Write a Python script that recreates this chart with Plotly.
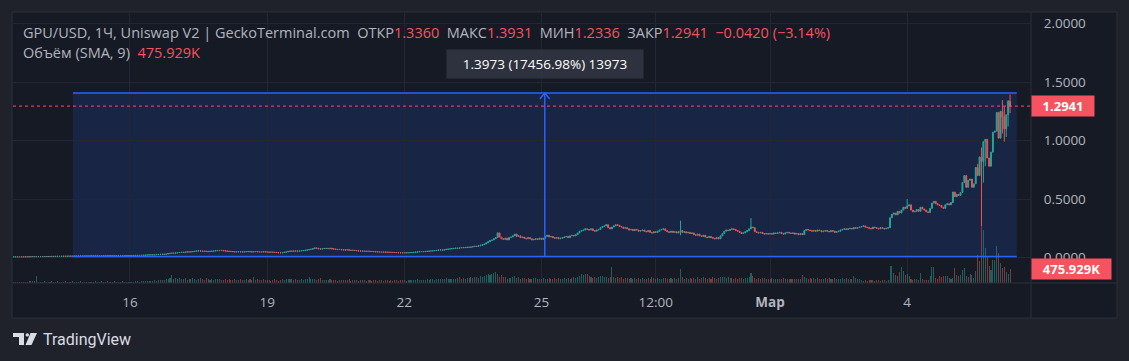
import pandas as pd
import plotly.graph_objects as go

# ---------------- DATA (hourly candles, GPU/USD) ----------------
start_time = "2024-02-13 11:00"
first_open = 0.0058

close_feb13 = [0.0060,0.0061,0.0060,0.0062,0.0061,0.0063,0.0062,0.0064,0.0063,0.0071,0.0080,0.0076,0.0078]
close_feb14 = [0.0080,0.0082,0.0079,0.0084,0.0088,0.0086,0.0090,0.0095,0.0093,0.0098,0.0102,0.0100,
               0.0105,0.0110,0.0107,0.0112,0.0118,0.0115,0.0121,0.0125,0.0122,0.0128,0.0132,0.0130]
close_feb15 = [0.0133,0.0131,0.0136,0.0140,0.0138,0.0142,0.0145,0.0143,0.0147,0.0150,0.0148,0.0152,
               0.0150,0.0154,0.0157,0.0155,0.0158,0.0156,0.0160,0.0158,0.0162,0.0165,0.0163,0.0166]
close_feb16 = [0.0168,0.0172,0.0175,0.0178,0.0182,0.0180,0.0188,0.0195,0.0205,0.0215,0.0225,0.0230,
               0.0226,0.0240,0.0255,0.0262,0.0270,0.0282,0.0278,0.0300,0.0335,0.0360,0.0372,0.0368]
close_feb17 = [0.0390,0.0420,0.0430,0.0445,0.0438,0.0460,0.0480,0.0470,0.0490,0.0510,0.0535,0.0560,
               0.0575,0.0550,0.0530,0.0545,0.0520,0.0505,0.0525,0.0545,0.0560,0.0580,0.0600,0.0590]
close_feb18 = [0.0605,0.0580,0.0560,0.0540,0.0520,0.0510,0.0495,0.0480,0.0490,0.0500,0.0485,0.0470,
               0.0490,0.0500,0.0510,0.0495,0.0480,0.0500,0.0510,0.0490,0.0480,0.0470,0.0490,0.0480]
close_feb19 = [0.0470,0.0455,0.0460,0.0450,0.0440,0.0425,0.0410,0.0400,0.0420,0.0450,0.0480,0.0520,
               0.0550,0.0540,0.0560,0.0550,0.0545,0.0560,0.0580,0.0600,0.0620,0.0650,0.0680,0.0710]
close_feb20 = [0.0760,0.0820,0.0790,0.0740,0.0720,0.0750,0.0770,0.0780,0.0760,0.0790,0.0740,0.0720,
               0.0700,0.0680,0.0690,0.0660,0.0650,0.0640,0.0660,0.0630,0.0610,0.0620,0.0600,0.0580]
close_feb21 = [0.0560,0.0545,0.0550,0.0540,0.0530,0.0535,0.0520,0.0510,0.0500,0.0490,0.0480,0.0470,
               0.0460,0.0465,0.0455,0.0450,0.0445,0.0440,0.0430,0.0425,0.0420,0.0410,0.0405,0.0400]
close_feb22 = [0.0405,0.0400,0.0410,0.0420,0.0430,0.0445,0.0460,0.0480,0.0500,0.0510,0.0505,0.0520,
               0.0530,0.0550,0.0560,0.0580,0.0600,0.0610,0.0640,0.0650,0.0630,0.0660,0.0700,0.0720]
close_feb23 = [0.0740,0.0760,0.0780,0.0800,0.0790,0.0820,0.0850,0.0840,0.0860,0.0880,0.0870,0.0900,
               0.0930,0.0960,0.0950,0.1000,0.1050,0.1100,0.1150,0.1250,0.1350,0.1450,0.1500,0.1600]
close_feb24 = [0.1700,0.2100,0.1750,0.1600,0.1550,0.1650,0.1500,0.1700,0.1750,0.1850,0.2000,0.1800,
               0.1850,0.1700,0.1750,0.1650,0.1600,0.1700,0.1600,0.1500,0.1550,0.1600,0.1550,0.1650]
close_feb25 = [0.1550,0.1650,0.1800,0.1900,0.1750,0.1800,0.1700,0.1650,0.1700,0.1600,0.1650,0.1700,
               0.1750,0.1800,0.1700,0.1850,0.1900,0.1850,0.1950,0.2100,0.2250,0.2300,0.2350,0.2450]
close_feb26 = [0.2400,0.2350,0.2450,0.2300,0.2250,0.2350,0.2400,0.2550,0.2650,0.2700,0.2800,0.2550,
               0.2450,0.2600,0.2700,0.2800,0.2750,0.2650,0.2600,0.2500,0.2550,0.2450,0.2350,0.2400]
close_feb27 = [0.2300,0.2400,0.2350,0.2250,0.2300,0.2350,0.2250,0.2200,0.2300,0.2150,0.2100,0.2200,
               0.2150,0.2250,0.2350,0.2400,0.2450,0.2300,0.2200,0.2150,0.2250,0.2150,0.2200,0.2100]
close_feb28 = [0.2200,0.2300,0.2150,0.2200,0.2100,0.2150,0.2050,0.2100,0.1950,0.1900,0.2000,0.1850,
               0.1800,0.1900,0.1750,0.1700,0.1800,0.1700,0.1650,0.1600,0.1700,0.1600,0.1850,0.2050]
close_feb29 = [0.2250,0.2350,0.2300,0.2400,0.2450,0.2400,0.2300,0.2250,0.2150,0.2050,0.2100,0.2200,
               0.2300,0.2450,0.2600,0.2550,0.2200,0.2150,0.2100,0.2150,0.2050,0.2000,0.2050,0.2000]
close_mar01 = [0.2050,0.2000,0.2100,0.2050,0.2100,0.2150,0.2050,0.2000,0.2100,0.2150,0.2100,0.2050,
               0.2100,0.2000,0.2050,0.1950,0.2050,0.1950,0.2300,0.2400,0.2350,0.2300,0.2250,0.2300]
close_mar02 = [0.2250,0.2350,0.2300,0.2200,0.2250,0.2300,0.2250,0.2200,0.2300,0.2250,0.2150,0.2200,
               0.2250,0.2350,0.2400,0.2450,0.2400,0.2450,0.2500,0.2450,0.2550,0.2500,0.2550,0.2600]
close_mar03 = [0.2650,0.2700,0.2600,0.2550,0.2500,0.2450,0.2600,0.2550,0.2500,0.2450,0.2550,0.2500,
               0.2450,0.2500,0.2550,0.3400,0.3700,0.3800,0.3650,0.3950,0.3800,0.4050,0.4300,0.4200]
close_mar04 = [0.4400,0.4500,0.4050,0.3900,0.3950,0.4100,0.3950,0.4300,0.4150,0.4050,0.3900,0.3850,
               0.4200,0.4650,0.4800,0.4600,0.4500,0.4450,0.4300,0.4200,0.4500,0.4600,0.4500,0.4700]
close_mar05 = [0.5600,0.5200,0.5400,0.5300,0.5560,0.6400,0.7000,0.6000,0.6600,0.6700,0.6000,0.6300,
               0.7700,0.7000,0.8600,0.8200,0.9900,1.0100,0.8500,0.7800,0.9000,1.0700,1.0800,1.2400]
close_mar06 = [1.0200,1.2500,1.2000,1.1000,1.2200,1.3360,1.2941]

# wick extremes that stick out of the bodies: time -> price
wick_high = {"2024-02-24 01:00": 0.215, "2024-02-28 01:00": 0.315, "2024-02-29 14:00": 0.338,
             "2024-03-04 00:00": 0.500, "2024-03-05 13:00": 0.800, "2024-03-05 15:00": 0.940,
             "2024-03-06 02:00": 1.345, "2024-03-06 03:00": 1.290, "2024-03-06 05:00": 1.345,
             "2024-03-06 06:00": 1.3931}
wick_low = {"2024-02-28 01:00": 0.190, "2024-03-05 15:00": 0.270, "2024-03-05 16:00": 0.640,
            "2024-03-05 17:00": 0.780, "2024-03-06 02:00": 1.060, "2024-03-06 03:00": 0.990,
            "2024-03-06 04:00": 1.030, "2024-03-06 05:00": 1.120, "2024-03-06 06:00": 1.2336}

# hourly volume, thousands USD
vol_feb13 = [40,35,30,45,38,50,42,35,60,70,80,55,250]
vol_feb14 = [45,38,30,52,40,35,48,60,42,38,55,45,33,40,62,50,36,44,58,40,35,47,53,38]
vol_feb15 = [42,36,50,45,34,40,55,48,37,60,44,39,52,46,35,43,58,41,37,49,54,40,45,38]
vol_feb16 = [45,50,40,62,55,48,70,58,65,80,72,60,85,95,78,88,110,90,100,130,150,180,260,120]
vol_feb17 = [160,140,180,120,150,165,110,140,130,175,120,100,140,155,125,110,160,130,115,145,105,130,150,120]
vol_feb18 = [110,95,130,100,120,90,105,140,115,100,125,95,110,130,100,120,90,215,105,125,95,110,130,100]
vol_feb19 = [90,110,85,100,120,95,80,105,130,110,140,150,120,135,110,125,100,115,130,105,120,140,190,125]
vol_feb20 = [150,130,110,120,170,105,95,115,100,125,90,110,100,85,105,95,110,90,100,120,85,95,105,90]
vol_feb21 = [85,100,90,110,80,95,105,85,90,100,80,95,110,85,90,100,75,95,85,105,90,80,95,100]
vol_feb22 = [90,85,100,95,110,90,105,120,100,115,95,110,125,105,120,140,110,130,150,120,140,125,160,135]
vol_feb23 = [130,150,140,125,160,190,150,170,140,180,160,200,170,190,220,180,250,210,230,280,300,260,320,340]
vol_feb24 = [360,300,200,260,190,220,150,180,160,200,230,170,190,150,175,160,140,165,150,130,155,170,140,150]
vol_feb25 = [140,170,150,130,160,145,120,155,140,170,130,150,165,140,180,150,170,200,160,190,230,300,280,310]
vol_feb26 = [290,240,200,180,210,170,190,230,250,220,200,180,190,560,220,170,210,160,190,150,175,160,140,165]
vol_feb27 = [150,170,140,160,135,180,150,130,165,145,190,155,140,170,150,130,160,175,145,125,155,140,165,150]
vol_feb28 = [160,480,190,150,170,140,160,130,180,150,200,145,170,220,160,150,175,140,190,165,150,180,200,210]
vol_feb29 = [190,170,200,160,180,150,170,140,160,185,150,170,160,200,350,230,180,150,165,140,155,170,145,150]
vol_mar01 = [140,160,135,150,130,145,125,155,140,130,150,125,140,135,150,130,145,260,200,170,150,160,140,155]
vol_mar02 = [145,160,135,150,140,170,130,155,145,125,160,140,150,135,165,145,155,140,130,150,230,160,135,150]
vol_mar03 = [90,80,100,85,95,110,90,80,95,100,85,110,90,80,100,580,590,330,260,250,360,560,420,280]
vol_mar04 = [300,230,120,110,130,120,100,330,130,110,100,95,230,560,560,160,120,230,200,230,230,230,180,150]
vol_mar05 = [180,500,270,230,260,440,510,230,200,290,260,170,400,940,740,1970,1800,1180,900,590,450,780,770,1250]
vol_mar06 = [1030,680,510,560,370,300,475.929]

# x-axis labels
tick_times = ["2024-02-16", "2024-02-19", "2024-02-22", "2024-02-25", "2024-02-27 12:00", "2024-03-01", "2024-03-04"]
tick_texts = ["16", "19", "22", "25", "12:00", "<b>Мар</b>", "4"]
price_ticks = [0.0, 0.5, 1.0, 1.5, 2.0]

# price-range measurement drawing
range_start, range_end = "2024-02-14 18:00", "2024-03-06 09:30"
range_low, range_high = 0.008004, 1.4053
range_text = "1.3973 (17456.98%) 13973"

last_close = 1.2941
last_volume = 475.929
header_name = "GPU/USD, 1Ч, Uniswap V2 | GeckoTerminal.com"
ohlc_labels = ["ОТКР", "МАКС", "МИН", "ЗАКР"]
ohlc_values = ["1.3360", "1.3931", "1.2336", "1.2941"]
change_text = "−0.0420 (−3.14%)"
volume_title = "Объём (SMA, 9)"
volume_text = "475.929K"

# ---------------- assemble ----------------
closes = (close_feb13 + close_feb14 + close_feb15 + close_feb16 + close_feb17 + close_feb18 + close_feb19
          + close_feb20 + close_feb21 + close_feb22 + close_feb23 + close_feb24 + close_feb25 + close_feb26
          + close_feb27 + close_feb28 + close_feb29 + close_mar01 + close_mar02 + close_mar03 + close_mar04
          + close_mar05 + close_mar06)
volumes = (vol_feb13 + vol_feb14 + vol_feb15 + vol_feb16 + vol_feb17 + vol_feb18 + vol_feb19 + vol_feb20
           + vol_feb21 + vol_feb22 + vol_feb23 + vol_feb24 + vol_feb25 + vol_feb26 + vol_feb27 + vol_feb28
           + vol_feb29 + vol_mar01 + vol_mar02 + vol_mar03 + vol_mar04 + vol_mar05 + vol_mar06)
assert len(closes) == len(volumes) == 524, (len(closes), len(volumes))

times = pd.date_range(start_time, periods=len(closes), freq="h")
opens = [first_open] + closes[:-1]
highs, lows = [], []
for t, o, c in zip(times, opens, closes):
    key = t.strftime("%Y-%m-%d %H:%M")
    highs.append(wick_high.get(key, max(o, c)))
    lows.append(wick_low.get(key, min(o, c)))

UP, DOWN = "#26a69a", "#ef5350"
LABEL_RED = "#f7525f"
vol_colors = ["rgba(38,166,154,0.5)" if c >= o else "rgba(239,83,80,0.5)" for o, c in zip(opens, closes)]

W, H = 1129, 361
ML, MR, MT, MB = 13, 98, 12, 78
PW, PH = W - ML - MR, H - MT - MB


def px(x):
    return (x - ML) / PW


def py(y):
    return (H - MB - y) / PH


fig = go.Figure()
fig.add_trace(go.Bar(x=times, y=volumes, marker=dict(color=vol_colors, line=dict(width=0)),
                     width=0.55 * 3600 * 1000, yaxis="y2", hoverinfo="skip", showlegend=False))
fig.add_trace(go.Candlestick(x=times, open=opens, high=highs, low=lows, close=closes,
                             increasing=dict(line=dict(color=UP, width=1), fillcolor=UP),
                             decreasing=dict(line=dict(color=DOWN, width=1), fillcolor=DOWN),
                             whiskerwidth=0, hoverinfo="skip", showlegend=False))

GRID = "#232735"
AX_TXT = "#b2b5be"
FONT = "Open Sans"
BORDER = "#2a2e39"

shapes = [
    # widget frame
    dict(type="rect", xref="paper", yref="paper", x0=px(12), x1=px(1117), y0=py(318), y1=py(12),
         fillcolor="#161a25", line=dict(color=BORDER, width=1), layer="below"),
    # measurement box fill
    dict(type="rect", xref="x", yref="y", x0=range_start, x1=range_end, y0=range_low, y1=range_high,
         fillcolor="rgba(41,98,255,0.15)", line=dict(width=0), layer="below"),
    # close price dotted line
    dict(type="line", xref="paper", yref="y", x0=0, x1=1, y0=last_close, y1=last_close,
         line=dict(color=LABEL_RED, width=1, dash="dot")),
    # measurement lines
    dict(type="line", xref="x", yref="y", x0=range_start, x1=range_end, y0=range_high, y1=range_high,
         line=dict(color="#2962ff", width=1.5)),
    dict(type="line", xref="x", yref="y", x0=range_start, x1=range_end, y0=range_low, y1=range_low,
         line=dict(color="#2962ff", width=1.5)),
]
mid = pd.Timestamp(range_start) + (pd.Timestamp(range_end) - pd.Timestamp(range_start)) / 2
shapes.append(dict(type="line", xref="x", yref="y", x0=mid, x1=mid, y0=range_low, y1=range_high,
                   line=dict(color="#2962ff", width=1.5)))
shapes.append(dict(type="path", xref="x", yref="y", xsizemode="pixel", ysizemode="pixel",
                   xanchor=mid, yanchor=range_high, path="M-5,-6 L0,0 L5,-6",
                   line=dict(color="#2962ff", width=1.5)))
# axis separators
shapes.append(dict(type="line", xref="paper", yref="paper", x0=1, x1=1, y0=py(318), y1=py(12),
                   line=dict(color=BORDER, width=1)))
shapes.append(dict(type="line", xref="paper", yref="paper", x0=px(12), x1=px(1117), y0=0, y1=0,
                   line=dict(color=BORDER, width=1)))
# TradingView logo mark
LOGO = "#d9dce3"


def pts(points):
    return "M " + " L ".join(f"{px(a)},{py(b)}" for a, b in points) + " Z"


shapes.append(dict(type="path", xref="paper", yref="paper",
                   path=pts([(13, 333), (24, 333), (24, 345), (19, 345), (19, 337), (13, 337)]),
                   fillcolor=LOGO, line=dict(width=0)))
shapes.append(dict(type="circle", xref="paper", yref="paper", x0=px(25.6), x1=px(29), y0=py(336.6), y1=py(333.2),
                   fillcolor=LOGO, line=dict(width=0)))
shapes.append(dict(type="path", xref="paper", yref="paper",
                   path=pts([(30.5, 333), (37, 333), (31.5, 345), (25.5, 345)]),
                   fillcolor=LOGO, line=dict(width=0)))

header = (f'<span style="color:#b2b5be">{header_name}\u00a0\u00a0</span>'
          + "".join(f'<span style="color:#b2b5be">{lab}</span><span style="color:{LABEL_RED}">{val}\u00a0\u00a0</span>'
                    for lab, val in zip(ohlc_labels, ohlc_values))
          + f'<span style="color:{LABEL_RED}">{change_text}</span>')

HDR = 14.5
annotations = [
    dict(xref="paper", yref="paper", x=px(21), y=py(33), xanchor="left", yanchor="middle", showarrow=False,
         text=header, font=dict(family=FONT, size=HDR, color="#b2b5be")),
    dict(xref="paper", yref="paper", x=px(21), y=py(53), xanchor="left", yanchor="middle", showarrow=False,
         text=f'<span style="color:#b2b5be">{volume_title}\u00a0\u00a0</span><span style="color:{LABEL_RED}">{volume_text}</span>',
         font=dict(family=FONT, size=HDR, color="#b2b5be")),
    dict(xref="x", yref="paper", x=mid, y=py(64), xanchor="center", yanchor="middle", showarrow=False,
         text=range_text, font=dict(family=FONT, size=13.5, color="#ffffff"),
         bgcolor="#2e323e", width=190, height=22, borderpad=3),
    dict(xref="paper", yref="y", x=1, y=last_close, xanchor="left", yanchor="middle", showarrow=False,
         text=f"<b>{last_close:.4f}</b>", font=dict(family=FONT, size=13, color="#ffffff"),
         bgcolor=LABEL_RED, width=60, height=18, borderpad=1),
    dict(xref="paper", yref="y2", x=1, y=last_volume, xanchor="left", yanchor="middle", showarrow=False,
         text=f"<b>{volume_text}</b>", font=dict(family=FONT, size=13, color="#ffffff"),
         bgcolor=LABEL_RED, width=77, height=18, borderpad=1),
    dict(xref="paper", yref="paper", x=px(41), y=py(339.5), xanchor="left", yanchor="middle", showarrow=False,
         text="TradingView", font=dict(family="Roboto", size=16, color=LOGO)),
]

y_top = 2.0983
y_bot = -0.2179
fig.update_layout(
    width=W, height=H, margin=dict(l=ML, r=MR, t=MT, b=MB, pad=0),
    paper_bgcolor="#1f222b", plot_bgcolor="#161a25",
    font=dict(family=FONT, size=13, color=AX_TXT),
    showlegend=False, hovermode=False, bargap=0,
    xaxis=dict(type="date", range=["2024-02-13 10:35", "2024-03-06 17:00"],
               tickvals=tick_times, ticktext=tick_texts, showgrid=True, gridcolor=GRID, gridwidth=1,
               ticks="outside", ticklen=7, tickcolor="rgba(0,0,0,0)", zeroline=False, showline=False,
               rangeslider=dict(visible=False), tickfont=dict(family=FONT, size=13.5, color=AX_TXT)),
    yaxis=dict(side="right", range=[y_bot, y_top], tickvals=price_ticks,
               ticktext=[f"{v:.4f}" for v in price_ticks], showgrid=True, gridcolor=GRID, gridwidth=1,
               zeroline=False, showline=False, ticks="outside", ticklen=9, tickcolor="rgba(0,0,0,0)",
               tickfont=dict(family=FONT, size=13.5, color=AX_TXT)),
    yaxis2=dict(overlaying="y", range=[0, 9200], visible=False, showgrid=False),
    shapes=shapes, annotations=annotations,
)

fig.write_html("out.html", config=dict(displayModeBar=False),
               post_script="document.body.style.margin='0';document.body.style.background='#1f222b';")
